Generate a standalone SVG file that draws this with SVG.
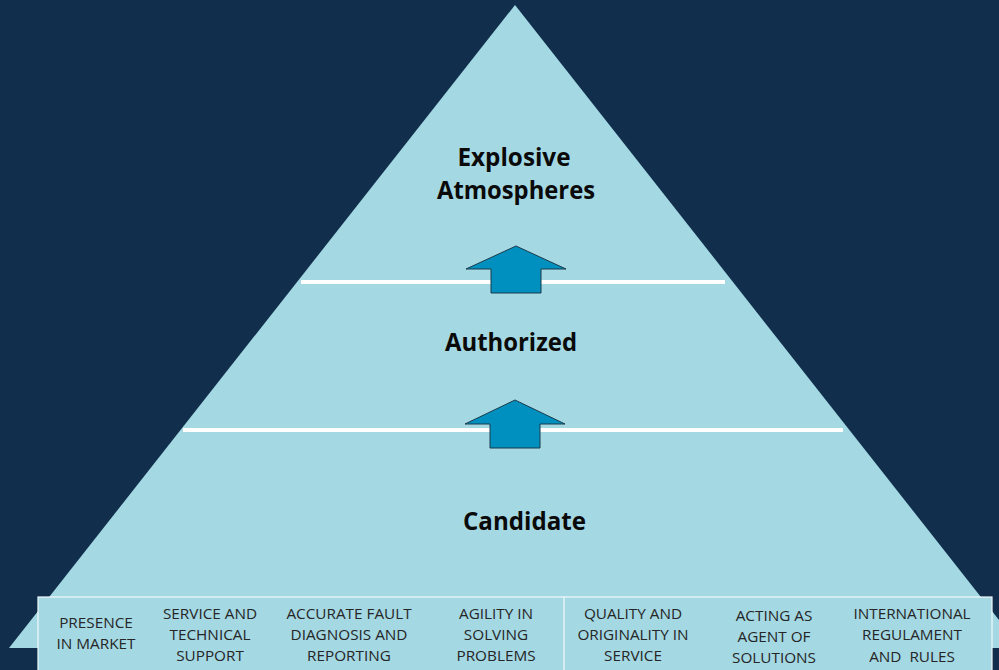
<svg xmlns="http://www.w3.org/2000/svg" width="999" height="670" viewBox="0 0 999 670">
  <style>
    .title { font-family: "Open Sans", "Liberation Sans", sans-serif; font-weight: bold; font-size: 25.5px; fill: #0a0a0a; text-anchor: middle; }
    .lbl { font-family: "Open Sans", "Liberation Sans", sans-serif; font-size: 15.3px; fill: #262626; text-anchor: middle; white-space: pre; }
    .sep { stroke: #ffffff; stroke-width: 4; }
    .arrow { fill: #0090bf; stroke: #1a3a4a; stroke-width: 1; }
  </style>
  <rect id="background" x="0" y="0" width="999" height="670" fill="#112e4c"/>
  <g id="pyramid">
    <polygon points="515,5 9,648 1021,648" fill="#a4d8e3"/>
  </g>
  <g id="connectors">
    <line class="sep" x1="301" y1="282" x2="725" y2="282"/>
    <line class="sep" x1="183" y1="430" x2="843" y2="430"/>
    <polygon class="arrow" points="516,246 566,269 541,269 541,293 491,293 491,269 466,269"/>
    <polygon class="arrow" points="515,400 565,424 540,424 540,448 490,448 490,424 465,424"/>
  </g>
  <g id="level-top">
    <text class="title" x="514" y="166" textLength="113" lengthAdjust="spacingAndGlyphs">Explosive</text>
    <text class="title" x="516" y="199" textLength="158" lengthAdjust="spacingAndGlyphs">Atmospheres</text>
  </g>
  <g id="level-middle">
    <text class="title" x="511" y="351" textLength="132" lengthAdjust="spacingAndGlyphs">Authorized</text>
  </g>
  <g id="level-bottom">
    <text class="title" x="524.5" y="530" textLength="123" lengthAdjust="spacingAndGlyphs">Candidate</text>
  </g>
  <g id="base-box">
    <rect x="38" y="597" width="954" height="80" fill="#a4d8e3" stroke="#f2fafc" stroke-width="1.2"/>
    <line x1="564" y1="597" x2="564" y2="670" stroke="#f2fafc" stroke-width="1.2"/>
  </g>
  <g id="item-presence">
    <text class="lbl" x="96" y="628">PRESENCE</text>
    <text class="lbl" x="96" y="649">IN MARKET</text>
  </g>
  <g id="item-service">
    <text class="lbl" x="210" y="619">SERVICE AND</text>
    <text class="lbl" x="210" y="640">TECHNICAL</text>
    <text class="lbl" x="210" y="661">SUPPORT</text>
  </g>
  <g id="item-fault">
    <text class="lbl" x="349" y="619">ACCURATE FAULT</text>
    <text class="lbl" x="349" y="640">DIAGNOSIS AND</text>
    <text class="lbl" x="349" y="661">REPORTING</text>
  </g>
  <g id="item-agility">
    <text class="lbl" x="496" y="619">AGILITY IN</text>
    <text class="lbl" x="496" y="640">SOLVING</text>
    <text class="lbl" x="496" y="661">PROBLEMS</text>
  </g>
  <g id="item-quality">
    <text class="lbl" x="633" y="619">QUALITY AND</text>
    <text class="lbl" x="633" y="640">ORIGINALITY IN</text>
    <text class="lbl" x="633" y="661">SERVICE</text>
  </g>
  <g id="item-agent">
    <text class="lbl" x="774" y="621">ACTING AS</text>
    <text class="lbl" x="774" y="642">AGENT OF</text>
    <text class="lbl" x="774" y="663">SOLUTIONS</text>
  </g>
  <g id="item-rules">
    <text class="lbl" x="912" y="619">INTERNATIONAL</text>
    <text class="lbl" x="912" y="640">REGULAMENT</text>
    <text class="lbl" x="912" y="662" xml:space="preserve">AND  RULES</text>
  </g>
</svg>
